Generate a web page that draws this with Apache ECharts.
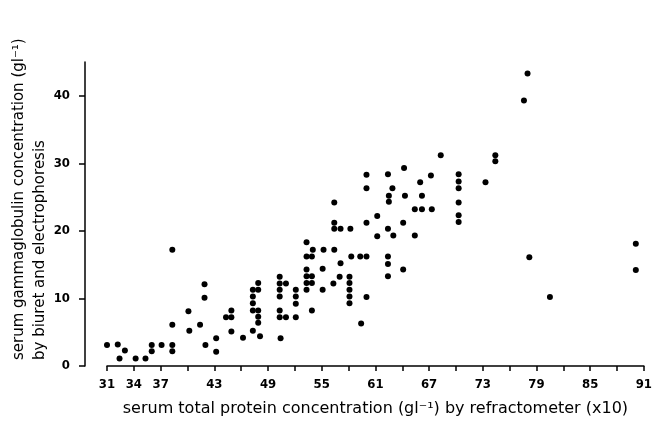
<!DOCTYPE html>
<html>
<head>
<meta charset="utf-8">
<script src="https://cdn.jsdelivr.net/npm/echarts@6/dist/echarts.min.js"></script>
<style>
    html, body { margin: 0; padding: 0; background: #fff; }
    #chart { width: 655px; height: 431px; }
</style>
</head>
<body>
<div id="chart"></div>
<script>
// serum total protein (x10)
var totalProtein = [
    31.0, 32.2, 32.4, 33.0, 34.2, 35.3, 36.0, 36.0, 37.1, 38.3,
    38.3, 38.3, 38.3, 40.1, 40.2, 41.4, 41.9, 41.9, 42.0, 43.2,
    43.2, 44.3, 44.9, 44.9, 44.9, 46.2, 47.3, 47.3, 47.3, 47.3,
    47.3, 47.9, 47.9, 47.9, 47.9, 47.9, 48.1, 50.3, 50.3, 50.3,
    50.3, 50.3, 50.3, 51.0, 51.0, 50.4, 52.1, 52.1, 52.1, 52.1,
    53.3, 53.3, 53.9, 54.0, 53.3, 53.3, 53.9, 53.3, 53.9, 53.3,
    53.9, 55.2, 55.1, 55.1, 56.4, 56.4, 56.4, 57.1, 56.4, 57.1,
    57.0, 56.3, 58.2, 58.3, 58.1, 58.1, 58.1, 58.1, 58.1, 59.3,
    60.0, 60.0, 59.4, 60.0, 60.0, 60.0, 61.2, 61.2, 62.4, 62.9,
    62.5, 62.5, 62.4, 63.0, 62.4, 62.4, 62.4, 64.2, 64.3, 64.1,
    64.1, 65.4, 66.0, 66.2, 65.4, 66.2, 67.3, 67.2, 68.3, 70.3,
    70.3, 70.3, 70.3, 70.3, 70.3, 73.3, 74.4, 74.4, 77.6, 78.0,
    78.2, 80.5, 90.1, 90.1
];
// serum gammaglobulin
var gammaglobulin = [
    3.1, 3.2, 1.1, 2.3, 1.1, 1.1, 3.1, 2.2, 3.1, 17.2,
    6.1, 3.1, 2.2, 8.1, 5.2, 6.1, 12.1, 10.1, 3.1, 4.1,
    2.1, 7.2, 8.2, 7.2, 5.1, 4.2, 11.3, 10.3, 9.3, 8.2,
    5.2, 12.3, 11.3, 8.2, 7.3, 6.4, 4.4, 13.2, 12.2, 11.3,
    10.3, 8.2, 7.2, 12.2, 7.2, 4.1, 11.3, 10.3, 9.2, 7.2,
    18.3, 16.2, 16.2, 17.2, 14.3, 13.3, 13.3, 12.3, 12.3, 11.3,
    8.2, 17.2, 14.4, 11.3, 24.2, 21.2, 20.3, 20.3, 17.2, 15.2,
    13.2, 12.2, 20.3, 16.2, 13.2, 12.3, 11.3, 10.3, 9.3, 16.2,
    16.2, 10.2, 6.3, 28.3, 26.3, 21.2, 22.2, 19.2, 28.4, 26.3,
    25.2, 24.3, 20.3, 19.3, 16.2, 15.1, 13.3, 29.3, 25.2, 21.2,
    14.3, 19.3, 27.2, 25.2, 23.2, 23.2, 23.2, 28.2, 31.2, 28.4,
    27.3, 26.3, 24.2, 22.3, 21.3, 27.2, 31.2, 30.3, 39.3, 43.3,
    16.1, 10.2, 18.1, 14.2
];

var xTicks = [31, 34, 37, 40, 43, 46, 49, 52, 55, 58, 61, 64, 67, 70, 73, 76, 79, 82, 85, 88, 91];
var xLabels = [31, 34, 37, 43, 49, 55, 61, 67, 73, 79, 85, 91];
var yMajor = [0, 10, 20, 30, 40];
var yMinor = [5, 15, 25, 35, 45];

var labelFont = {
    color: '#000',
    fontFamily: 'DejaVu Sans Condensed',
    fontWeight: 'bold',
    fontSize: 13
};
var nameFont = 'DejaVu Sans';

var points = totalProtein.map(function (x, i) {
    return [x, gammaglobulin[i]];
});

var chart = echarts.init(document.getElementById('chart'));
var option = {
    animation: false,
    backgroundColor: '#fff',
    grid: {
        left: 107,
        right: 7,
        top: 62,
        bottom: 65
    },
    xAxis: {
        type: 'value',
        min: 31,
        max: 91,
        name: 'serum total protein concentration (gl\u207B\u00B9) by refractometer (x10)',
        nameLocation: 'middle',
        nameGap: 35,
        nameTextStyle: {color: '#000', fontFamily: nameFont, fontSize: 16},
        axisLine: {lineStyle: {color: '#000', width: 1.5}},
        axisTick: {
            customValues: xTicks,
            length: 5,
            lineStyle: {color: '#000', width: 1.5}
        },
        axisLabel: Object.assign({customValues: xLabels, margin: 12}, labelFont),
        splitLine: {show: false}
    },
    yAxis: [
        {
            type: 'value',
            min: 0,
            max: 45,
            offset: 22,
            axisLine: {show: true, lineStyle: {color: '#000', width: 1.5}},
            axisTick: {
                show: true,
                customValues: yMajor,
                length: 6,
                lineStyle: {color: '#000', width: 1.5}
            },
            axisLabel: Object.assign({customValues: yMajor, margin: 15}, labelFont),
            splitLine: {show: false}
        },
        {
            // short ticks halfway between the labelled ones
            type: 'value',
            min: 0,
            max: 45,
            offset: 22,
            axisLine: {show: false},
            axisTick: {
                show: true,
                customValues: yMinor,
                length: 3,
                lineStyle: {color: '#000', width: 1.5}
            },
            axisLabel: {show: false},
            splitLine: {show: false}
        }
    ],
    graphic: [
        {
            type: 'text',
            x: 19,
            y: 360,
            rotation: Math.PI / 2,
            style: {
                text: 'serum gammaglobulin concentration (gl\u207B\u00B9)',
                fill: '#000',
                font: '15px ' + nameFont,
                textAlign: 'left',
                textVerticalAlign: 'middle'
            }
        },
        {
            type: 'text',
            x: 40,
            y: 360,
            rotation: Math.PI / 2,
            style: {
                text: 'by biuret and electrophoresis',
                fill: '#000',
                font: '15px ' + nameFont,
                textAlign: 'left',
                textVerticalAlign: 'middle'
            }
        }
    ],
    series: [{
        type: 'scatter',
        yAxisIndex: 0,
        symbol: 'circle',
        symbolSize: 6,
        itemStyle: {color: '#000', opacity: 1},
        data: points
    }]
};
chart.setOption(option);
</script>
</body>
</html>
